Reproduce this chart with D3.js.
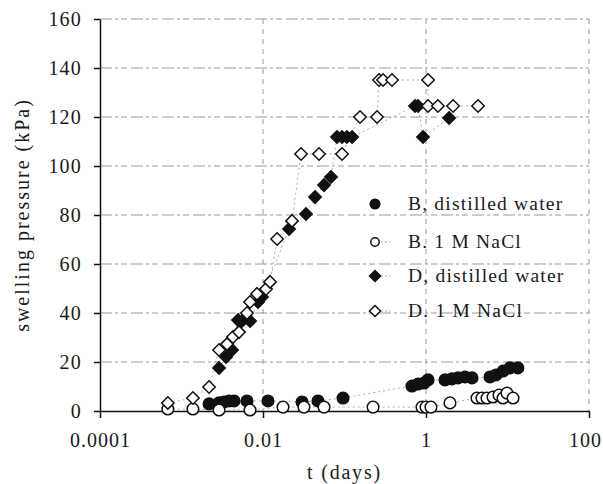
<!DOCTYPE html>
<html>
<head>
<meta charset="utf-8">
<script src="https://cdn.jsdelivr.net/npm/d3@7"></script>
<style>
  body { margin: 0; background: #fff; }
  text { font-family: "Liberation Serif", "DejaVu Serif", serif; fill: #1a1a1a; }
</style>
</head>
<body>
<svg width="603" height="484"></svg>
<script>
// Swelling pressure vs time

// B, distilled water
var bWaterT = [0.00218, 0.00289, 0.00332, 0.00383, 0.00441, 0.00636, 0.0115, 0.0301, 0.0473, 0.0959,
  0.673, 0.798, 0.945, 1.06, 1.71, 2.08, 2.47, 3.01, 3.67, 6.10, 7.22, 8.81, 10.7, 13.4];
var bWaterP = [2.9, 3.3, 3.7, 4.1, 4.1, 4.1, 4.1, 3.7, 4.1, 5.3,
  10.2, 11.0, 11.4, 12.7, 12.7, 13.1, 13.5, 13.9, 13.5, 13.9, 14.7, 16.3, 17.6, 17.6];

// B, 1 M NaCl
var bSaltT = [0.00068, 0.00138, 0.00289, 0.00693, 0.0176, 0.0318, 0.0561, 0.224, 0.893, 1.0, 1.15,
  1.97, 4.22, 4.86, 5.60, 6.64, 7.87, 8.81, 9.86, 11.7];
var bSaltP = [0.8, 0.8, 0.4, 0.4, 1.6, 1.6, 1.6, 1.6, 1.6, 1.6, 1.6,
  3.3, 5.3, 5.3, 5.3, 5.7, 6.5, 5.3, 7.3, 5.3];

// D, distilled water
var dWaterT = [0.00289, 0.00352, 0.00417, 0.00494, 0.00553, 0.00693, 0.00869, 0.00972,
  0.0209, 0.0337, 0.0435, 0.0561, 0.0683, 0.0809, 0.0932, 0.107, 0.124,
  0.733, 0.798, 0.919, 1.92];
var dWaterP = [17.6, 22.0, 24.9, 37.1, 36.7, 36.7, 44.5, 46.5,
  74.3, 80.4, 87.3, 92.2, 95.5, 111.8, 111.8, 111.8, 111.8,
  124.5, 124.5, 111.8, 119.6];

// D, 1 M NaCl
var dSaltT = [0.00068, 0.00138, 0.00218, 0.00289, 0.00362, 0.00428, 0.00508, 0.00636, 0.00693,
  0.00844, 0.0109, 0.0122, 0.0149, 0.0227, 0.0293, 0.0487, 0.0932, 0.155, 0.251,
  0.265, 0.297, 0.383, 1.06, 1.06, 1.40, 2.15, 4.35];
var dSaltP = [3.3, 5.3, 9.8, 24.9, 27.3, 30.2, 32.2, 40.0, 44.5,
  47.8, 49.8, 52.7, 70.2, 77.6, 104.9, 104.9, 104.9, 120.0, 120.0,
  135.1, 135.1, 135.1, 135.1, 124.5, 124.5, 124.5, 124.5];

var legendLabels = ["B, distilled water", "B. 1 M NaCl", "D, distilled water", "D. 1 M NaCl"];
var yTicks = [0, 20, 40, 60, 80, 100, 120, 140, 160];
var xTicks = [0.0001, 0.01, 1, 100];
var xTickLabels = ["0.0001", "0.01", "1", "100"];

var svg = d3.select("svg");

var margin = {top: 19, right: 14, bottom: 73, left: 100};
var width = 603 - margin.left - margin.right;
var height = 484 - margin.top - margin.bottom;

var g = svg.append("g")
  .attr("transform", "translate(" + margin.left + "," + margin.top + ")");

var x = d3.scaleLog().domain([0.0001, 100]).range([0, width]);
var y = d3.scaleLinear().domain([0, 160]).range([height, 0]);

// dashed grid, light and broken like the scan
g.append("g").selectAll("line")
  .data(yTicks.slice(1))
  .enter().append("line")
  .attr("x1", 0).attr("x2", width)
  .attr("y1", function(d) { return y(d); })
  .attr("y2", function(d) { return y(d); })
  .attr("stroke", "#999").attr("stroke-width", 1)
  .attr("stroke-dasharray", "12,3,3,3,6,4");

g.append("g").selectAll("line")
  .data(xTicks.slice(1))
  .enter().append("line")
  .attr("x1", function(d) { return x(d); })
  .attr("x2", function(d) { return x(d); })
  .attr("y1", 0).attr("y2", height)
  .attr("stroke", "#999").attr("stroke-width", 1)
  .attr("stroke-dasharray", "5,5");

// axes
var yAxis = d3.axisLeft(y).tickValues(yTicks).tickSize(6).tickSizeOuter(0).tickPadding(12);
var xAxis = d3.axisBottom(x).tickValues(xTicks).tickSize(7).tickSizeOuter(0).tickPadding(15)
  .tickFormat(function(d, i) { return xTickLabels[i]; });

var ya = g.append("g").call(yAxis);
var xa = g.append("g").attr("transform", "translate(0," + height + ")").call(xAxis);

[ya, xa].forEach(function(a) {
  a.selectAll("path, line").attr("stroke", "#111").attr("stroke-width", 1.5);
  a.selectAll("text")
    .style("font-size", "20px")
    .attr("fill", "#1a1a1a");
});
ya.selectAll("text").style("letter-spacing", "1.2px");
xa.selectAll("text").style("letter-spacing", "1px")
  .attr("dx", function(d, i) { return i === xTicks.length - 1 ? -4 : 0; });

// axis titles
svg.append("text")
  .attr("x", margin.left + x(0.1)).attr("y", 479)
  .attr("text-anchor", "middle")
  .style("font-size", "20px").style("letter-spacing", "1.8px")
  .text("t (days)");

svg.append("text")
  .attr("transform", "translate(29,215) rotate(-90)")
  .attr("text-anchor", "middle")
  .style("font-size", "20px").style("letter-spacing", "2px")
  .text("swelling pressure (kPa)");

// series
function pairs(ts, ps) {
  return ts.map(function(t, i) { return {t: t, p: ps[i]}; });
}

var series = [
  {data: pairs(bWaterT, bWaterP), shape: "circle", filled: true},
  {data: pairs(bSaltT, bSaltP), shape: "circle", filled: false},
  {data: pairs(dWaterT, dWaterP), shape: "diamond", filled: true},
  {data: pairs(dSaltT, dSaltP), shape: "diamond", filled: false}
];

var line = d3.line()
  .x(function(d) { return x(d.t); })
  .y(function(d) { return y(d.p); });

series.forEach(function(s) {
  g.append("path")
    .datum(s.data)
    .attr("d", line)
    .attr("fill", "none")
    .attr("stroke", "#999")
    .attr("stroke-width", 0.8)
    .attr("stroke-dasharray", "2,3");
});

function drawMark(sel, s, size) {
  if (s.shape === "circle") {
    sel.append("circle").attr("r", size);
  } else {
    sel.append("path")
      .attr("d", "M0," + (-size * 1.15) + "L" + (size * 1.15) + ",0L0," + (size * 1.15) + "L" + (-size * 1.15) + ",0Z");
  }
  sel.selectAll("circle, path")
    .attr("fill", s.filled ? "#111" : "#fff")
    .attr("stroke", "#111")
    .attr("stroke-width", 1.5);
}

series.forEach(function(s) {
  g.append("g").selectAll("g")
    .data(s.data)
    .enter().append("g")
    .attr("transform", function(d) { return "translate(" + x(d.t) + "," + y(d.p) + ")"; })
    .each(function() { drawMark(d3.select(this), s, s.shape === "circle" ? 5.8 : 5.4); });
});

// legend
var legendY = [204, 242, 276, 311];
var legend = svg.append("g");
series.forEach(function(s, i) {
  var row = legend.append("g").attr("transform", "translate(375," + legendY[i] + ")");
  if (i > 0) {
    row.append("line")
      .attr("x1", 6).attr("x2", 15).attr("y1", 0).attr("y2", 0)
      .attr("stroke", "#888").attr("stroke-width", 0.8)
      .attr("stroke-dasharray", "2,2");
  }
  var m = row.append("g");
  drawMark(m, s, i === 1 ? 4.2 : 4.8);
  row.append("text")
    .attr("x", 33).attr("y", 6)
    .style("font-size", "19.5px").style("letter-spacing", "1.2px")
    .text(legendLabels[i]);
});
</script>
</body>
</html>
